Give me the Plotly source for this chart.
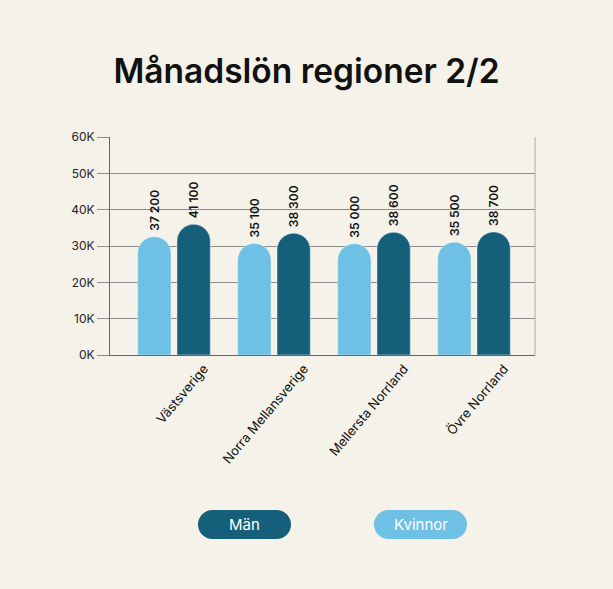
import plotly.graph_objects as go

regions = ["Västsverige", "Norra Mellansverige", "Mellersta Norrland", "Övre Norrland"]
kvinnor = [37200, 35100, 35000, 35500]
man = [41100, 38300, 38600, 38700]
ytick_vals = [0, 10000, 20000, 30000, 40000, 50000, 60000]
ytick_text = ["0K", "10K", "20K", "30K", "40K", "50K", "60K"]

LIGHT = "#6ec1e4"
DARK = "#155f7a"
BG = "#f5f3e9"

W, H = 613, 589
ML, MR, MT, MB = 110, 78, 137, 234
PW, PH = W - ML - MR, H - MT - MB

def px_x(px):
    return (px - ML) / PW

def px_y(py):
    return (H - MB - py) / PH

fig = go.Figure()
# invisible reference trace to anchor the visible value axis
fig.add_trace(go.Scatter(x=regions, y=kvinnor, mode="markers", marker=dict(opacity=0),
                         showlegend=False, hoverinfo="skip", yaxis="y"))
label_font = dict(size=12, color="#111", family="Inter", weight=600)
fig.add_trace(go.Bar(x=regions, y=kvinnor, name="Kvinnor", marker_color=LIGHT,
                     texttemplate="\u00a0%{y:,.0f}", textposition="outside", textangle=-90,
                     constraintext="none",
                     textfont=label_font, cliponaxis=False, yaxis="y2"))
fig.add_trace(go.Bar(x=regions, y=man, name="Män", marker_color=DARK,
                     texttemplate="\u00a0%{y:,.0f}", textposition="outside", textangle=-90,
                     constraintext="none",
                     textfont=label_font, cliponaxis=False, yaxis="y2"))

shapes = [dict(type="line", xref="paper", yref="paper", x0=1, x1=1, y0=0, y1=1,
               line=dict(color="#aaaaaa", width=1))]
annotations = []
pills = [("Män", DARK, 198, 291), ("Kvinnor", LIGHT, 374, 467)]
py0, py1 = 510, 539
r = (py1 - py0) / 2
for label, col, x0, x1 in pills:
    shapes.append(dict(type="rect", xref="paper", yref="paper", x0=px_x(x0 + r), x1=px_x(x1 - r),
                       y0=px_y(py1), y1=px_y(py0), fillcolor=col, line=dict(width=0), layer="above"))
    shapes.append(dict(type="circle", xref="paper", yref="paper", x0=px_x(x0), x1=px_x(x0 + 2 * r),
                       y0=px_y(py1), y1=px_y(py0), fillcolor=col, line=dict(width=0), layer="above"))
    shapes.append(dict(type="circle", xref="paper", yref="paper", x0=px_x(x1 - 2 * r), x1=px_x(x1),
                       y0=px_y(py1), y1=px_y(py0), fillcolor=col, line=dict(width=0), layer="above"))
    annotations.append(dict(text=label, xref="paper", yref="paper", x=px_x((x0 + x1) / 2),
                            y=px_y((py0 + py1) / 2), showarrow=False, xanchor="center", yanchor="middle",
                            font=dict(size=15, color="white", family="Inter")))

fig.update_layout(
    width=W, height=H,
    margin=dict(l=ML, r=MR, t=MT, b=MB),
    paper_bgcolor=BG, plot_bgcolor=BG,
    separators=", ",
    showlegend=False,
    barmode="group", bargap=0.214, bargroupgap=0.153,
    barcornerradius="50%",
    title=dict(text="Månadslön regioner 2/2", x=0.5, xanchor="center", y=1 - 71 / H, yanchor="middle",
               font=dict(size=33.5, color="#111", family="Inter", weight=600)),
    font=dict(family="Inter", color="#222"),
    xaxis=dict(type="category", range=[-0.64, 3.61], tickangle=-50, ticklabelshift=30,
               tickfont=dict(size=13, color="#111"), showline=True, linecolor="#666", linewidth=1,
               showgrid=False, ticks=""),
    yaxis=dict(range=[0, 60000], tickvals=ytick_vals, ticktext=ytick_text, showgrid=True,
               gridcolor="#8c8c8c", gridwidth=1, showline=True, linecolor="#666", ticks="outside",
               ticklen=12, tickcolor="#8c8c8c", tickfont=dict(size=12, color="#222"), zeroline=False),
    yaxis2=dict(range=[0, 60000 / 0.875], overlaying="y", visible=False),
    shapes=shapes,
    annotations=annotations,
)

fig.write_html("out.html", config={"displayModeBar": False},
               post_script="document.body.style.margin='0';document.body.style.background='%s';" % BG)
